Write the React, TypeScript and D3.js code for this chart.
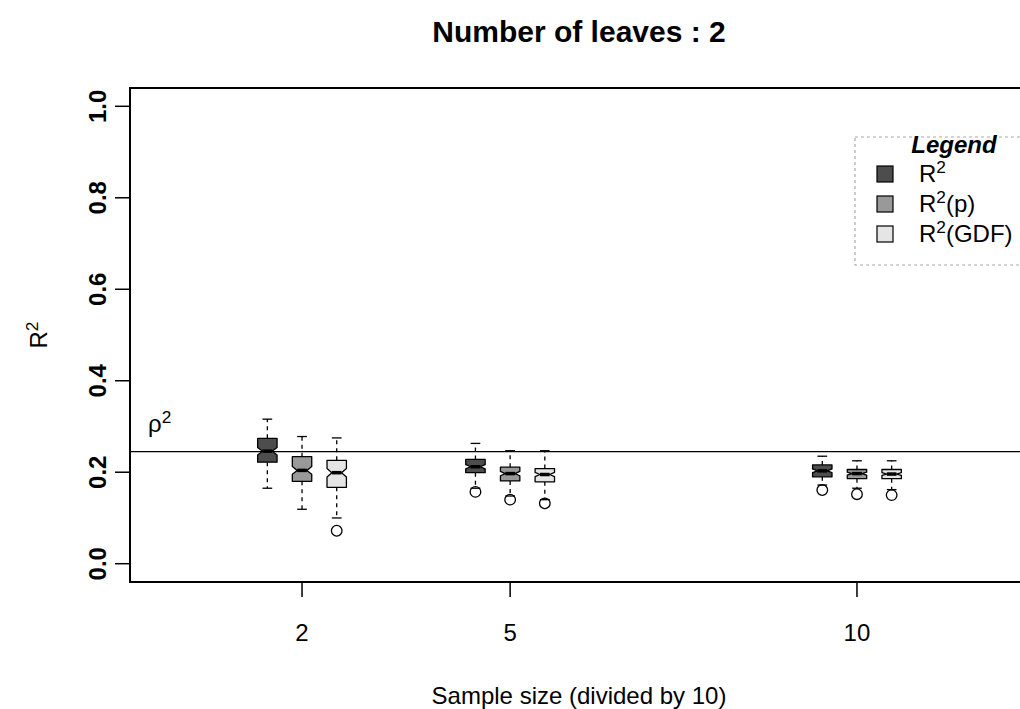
import React from "react";
import * as d3 from "d3";

// Sample sizes (divided by 10) and the three estimators compared at each size
const sampleSizes = [2, 5, 10];
const seriesNames = ["R2", "R2(p)", "R2(GDF)"];
const seriesFills = ["#4d4d4d", "#999999", "#e5e5e5"];
const yTicks = [0, 0.2, 0.4, 0.6, 0.8, 1.0];
const rho2 = 0.245;
const replicates = 100;

// Five-number summaries [lower whisker, Q1, median, Q3, upper whisker], one row per sample size
const r2Stats = [
  [0.165, 0.222, 0.246, 0.274, 0.316],
  [0.165, 0.199, 0.212, 0.228, 0.263],
  [0.172, 0.19, 0.203, 0.216, 0.235],
];
const r2pStats = [
  [0.119, 0.18, 0.204, 0.234, 0.278],
  [0.148, 0.181, 0.197, 0.211, 0.247],
  [0.165, 0.186, 0.197, 0.206, 0.225],
];
const r2gdfStats = [
  [0.1, 0.167, 0.199, 0.226, 0.275],
  [0.14, 0.179, 0.195, 0.208, 0.247],
  [0.162, 0.186, 0.196, 0.206, 0.225],
];
// Points beyond the whiskers
const r2Outliers = [[], [0.157], [0.161]];
const r2pOutliers = [[], [0.14], [0.152]];
const r2gdfOutliers = [[0.072], [0.132], [0.15]];

const allStats = [r2Stats, r2pStats, r2gdfStats];
const allOutliers = [r2Outliers, r2pOutliers, r2gdfOutliers];
const offsets = [-0.5, 0, 0.5];

const W = 1020;
const H = 709;
const FONT = "'Liberation Sans', Arial, Helvetica, sans-serif";

const x = d3.scaleLinear().domain([-0.48, 12.48]).range([130, 1029]);
const y = d3.scaleLinear().domain([-0.04, 1.04]).range([582, 88]);

const boxHalf = 0.14; // in x units
const notchFrac = 0.5;
const stapleFrac = 0.5;

function Sup({ base, sup, rest, size }: { base: string; sup: string; rest?: string; size: number }) {
  return (
    <>
      <tspan>{base}</tspan>
      <tspan fontSize={size * 0.72} dy={-size * 0.36}>
        {sup}
      </tspan>
      {rest ? <tspan dy={size * 0.36}>{rest}</tspan> : null}
    </>
  );
}

function BoxPlot({ cx, stats, outliers, fill }: { cx: number; stats: number[]; outliers: number[]; fill: string }) {
  const [lo, q1, med, q3, hi] = stats;
  const n = (1.58 * (q3 - q1)) / Math.sqrt(replicates);
  const xl = x(cx - boxHalf);
  const xr = x(cx + boxHalf);
  const xnl = x(cx - boxHalf * notchFrac);
  const xnr = x(cx + boxHalf * notchFrac);
  const xc = x(cx);
  const pts: [number, number][] = [
    [xl, y(q1)],
    [xl, y(med - n)],
    [xnl, y(med)],
    [xl, y(med + n)],
    [xl, y(q3)],
    [xr, y(q3)],
    [xr, y(med + n)],
    [xnr, y(med)],
    [xr, y(med - n)],
    [xr, y(q1)],
  ];
  const sl = x(cx - boxHalf * stapleFrac);
  const sr = x(cx + boxHalf * stapleFrac);
  return (
    <g>
      <line x1={xc} x2={xc} y1={y(q3)} y2={y(hi)} stroke="#000" strokeWidth={1.3} strokeDasharray="4,4" />
      <line x1={xc} x2={xc} y1={y(q1)} y2={y(lo)} stroke="#000" strokeWidth={1.3} strokeDasharray="4,4" />
      <line x1={sl} x2={sr} y1={y(hi)} y2={y(hi)} stroke="#000" strokeWidth={1.3} />
      <line x1={sl} x2={sr} y1={y(lo)} y2={y(lo)} stroke="#000" strokeWidth={1.3} />
      <polygon points={pts.map((p) => p.join(",")).join(" ")} fill={fill} stroke="#000" strokeWidth={1.3} strokeLinejoin="round" />
      <line x1={xnl} x2={xnr} y1={y(med)} y2={y(med)} stroke="#000" strokeWidth={3.5} />
      {outliers.map((o, i) => (
        <circle key={i} cx={xc} cy={y(o)} r={5.3} fill="none" stroke="#000" strokeWidth={1.3} />
      ))}
    </g>
  );
}

export default function App() {
  const fs = 24;
  const legendRows = [174, 204, 234];
  return (
    <svg
      width={W}
      height={H}
      style={{ position: "absolute", left: 0, top: 0, display: "block", background: "#fff" }}
      fontFamily={FONT}
    >
      <rect x={0} y={0} width={W} height={H} fill="#fff" />
      {/* Title */}
      <text x={579} y={42} textAnchor="middle" fontWeight="bold" fontSize={30}>
        Number of leaves : 2
      </text>

      {/* Reference line */}
      <line x1={x(-0.48)} x2={x(12.48)} y1={y(rho2)} y2={y(rho2)} stroke="#000" strokeWidth={1.3} />
      <text x={148} y={432} fontSize={fs}>
        <Sup base="ρ" sup="2" size={fs} />
      </text>

      {/* Boxes */}
      {sampleSizes.map((s, i) =>
        allStats.map((st, k) => (
          <BoxPlot key={`${i}-${k}`} cx={s + offsets[k]} stats={st[i]} outliers={allOutliers[k][i]} fill={seriesFills[k]} />
        ))
      )}

      {/* Plot frame */}
      <rect x={130} y={88} width={899} height={494} fill="none" stroke="#000" strokeWidth={2} />

      {/* Y axis */}
      {yTicks.map((t) => (
        <g key={t}>
          <line x1={115} x2={130} y1={y(t)} y2={y(t)} stroke="#000" strokeWidth={1.5} />
          <text
            transform={`translate(106,${y(t)}) rotate(-90)`}
            textAnchor="middle"
            fontSize={fs}
            fontWeight="bold"
          >
            {t.toFixed(1)}
          </text>
        </g>
      ))}
      <text transform={`translate(47,335) rotate(-90)`} textAnchor="middle" fontSize={fs}>
        <Sup base="R" sup="2" size={fs} />
      </text>

      {/* X axis */}
      {sampleSizes.map((s) => (
        <g key={s}>
          <line x1={x(s)} x2={x(s)} y1={582} y2={597} stroke="#000" strokeWidth={1.5} />
          <text x={x(s)} y={641} textAnchor="middle" fontSize={fs}>
            {s}
          </text>
        </g>
      ))}
      <text x={579} y={704} textAnchor="middle" fontSize={fs}>
        Sample size (divided by 10)
      </text>

      {/* Legend */}
      <rect x={855} y={137} width={210} height={128} fill="#fff" stroke="#aaa" strokeWidth={1.2} strokeDasharray="3,3" />
      <text x={954} y={152.5} textAnchor="middle" fontSize={fs} fontWeight="bold" fontStyle="italic">
        Legend
      </text>
      {seriesNames.map((name, k) => (
        <g key={name}>
          <rect x={877} y={legendRows[k] - 8} width={16} height={16} fill={seriesFills[k]} stroke="#000" strokeWidth={1.2} />
          <text x={919} y={legendRows[k] + 8} fontSize={fs}>
            <Sup base="R" sup="2" rest={name.slice(2) || undefined} size={fs} />
          </text>
        </g>
      ))}
    </svg>
  );
}
